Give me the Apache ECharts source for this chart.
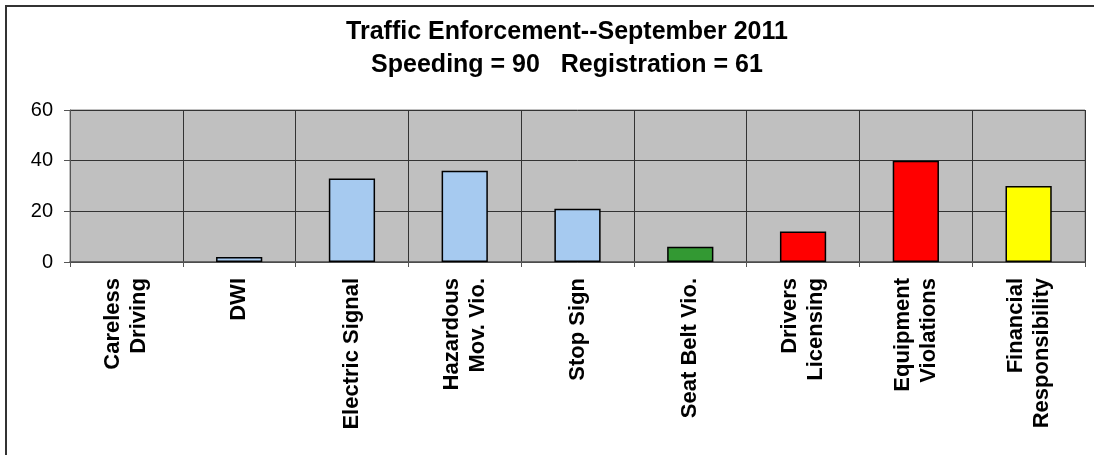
<!DOCTYPE html>
<html>
<head>
<meta charset="utf-8">
<script src="https://cdn.jsdelivr.net/npm/echarts@6/dist/echarts.min.js"></script>
<style>
  html, body { margin: 0; padding: 0; background: #fff; }
  #chart { width: 1094px; height: 455px; }
</style>
</head>
<body>
<div id="chart"></div>
<script>
// category labels (two-line ones split with \n)
const categories = [
  'Careless\nDriving', 'DWI', 'Electric Signal', 'Hazardous\nMov. Vio.',
  'Stop Sign', 'Seat Belt Vio.', 'Drivers\nLicensing', 'Equipment\nViolations',
  'Financial\nResponsibility'
]
const counts = [0, 2, 33, 36, 21, 6, 12, 40, 30]
const barColors = ['#A6CAF0', '#A6CAF0', '#A6CAF0', '#A6CAF0', '#A6CAF0', '#339933', '#FF0000', '#FF0000', '#FFFF00']
const yTicks = [0, 20, 40, 60]

const font = "'Liberation Sans', Arial, sans-serif"
const chart = echarts.init(document.getElementById('chart'))

chart.setOption({
  animation: false,
  title: {
    text: 'Traffic Enforcement--September 2011\nSpeeding = 90   Registration = 61',
    left: 562,
    top: 11,
    textAlign: 'center',
    textStyle: {
      fontFamily: font,
      fontSize: 25,
      fontWeight: 'bold',
      lineHeight: 33,
      color: '#000'
    }
  },
  graphic: [{
    type: 'rect',
    shape: { x: 6, y: 6, width: 1200, height: 600 },
    style: { fill: 'none', stroke: '#333', lineWidth: 2 },
    silent: true,
    z: 100
  }],
  grid: {
    left: 70,
    right: 9,
    top: 110,
    bottom: 193,
    show: true,
    backgroundColor: '#C0C0C0',
    borderColor: '#808080',
    borderWidth: 1
  },
  xAxis: {
    type: 'category',
    data: categories,
    axisLine: { lineStyle: { color: '#555', width: 1.5 } },
    axisTick: { show: true, length: 5, lineStyle: { color: '#555' } },
    splitLine: { show: true, lineStyle: { color: '#333', width: 1 } },
    axisLabel: {
      rotate: 90,
      interval: 0,
      margin: 16,
      fontFamily: font,
      fontSize: 22,
      fontWeight: 'bold',
      lineHeight: 26,
      color: '#000'
    }
  },
  yAxis: {
    type: 'value',
    min: yTicks[0],
    max: yTicks[yTicks.length - 1],
    interval: yTicks[1] - yTicks[0],
    axisLine: { show: true, lineStyle: { color: '#555', width: 1 } },
    axisTick: { show: true, length: 6, lineStyle: { color: '#555' } },
    splitLine: { lineStyle: { color: '#333', width: 1 } },
    axisLabel: {
      margin: 17,
      fontFamily: font,
      fontSize: 20,
      color: '#000'
    }
  },
  series: [{
    type: 'bar',
    barWidth: '41%',
    data: counts.map((v, i) => ({
      value: v,
      // a zero count has no visible bar in the original
      itemStyle: { color: barColors[i], borderWidth: v > 0 ? 1.5 : 0 }
    })),
    itemStyle: { borderColor: '#000' }
  }]
})
</script>
</body>
</html>
